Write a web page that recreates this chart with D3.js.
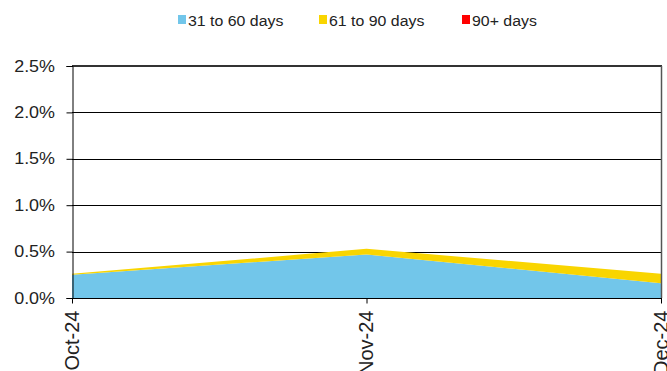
<!DOCTYPE html>
<html>
<head>
<meta charset="utf-8">
<script src="https://cdn.jsdelivr.net/npm/d3@7"></script>
<style>
  html, body { margin: 0; padding: 0; background: #fff; }
  svg { display: block; font-family: "Liberation Sans", Arial, sans-serif; }
</style>
</head>
<body>
<svg id="chart" width="667" height="371"></svg>
<script>
const categories = ["Oct-24", "Nov-24", "Dec-24"];
const seriesNames = ["31 to 60 days", "61 to 90 days", "90+ days"];
const seriesColors = ["#72C6EA", "#F9D500", "#FF0000"];
const s31to60 = [0.0025, 0.0047, 0.0016];
const s61to90 = [0.0001, 0.0006, 0.0010];
const s90plus = [0.0, 0.0, 0.0];
const yTicks = [0, 0.005, 0.010, 0.015, 0.020, 0.025];

(function () {
const svg = d3.select("#chart");
const pL = 72, pR = 661, pT = 66, pB = 298;

const x = d3.scalePoint().domain(categories).range([pL, pR]);
const y = d3.scaleLinear().domain([0, 0.025]).range([pB, pT]);

const rows = categories.map((c, i) => ({ cat: c, a: s31to60[i], b: s61to90[i], c: s90plus[i] }));
const stack = d3.stack().keys(["a", "b", "c"]);
const layers = stack(rows);

// gridlines
svg.append("g").selectAll("line").data(yTicks.slice(1)).join("line")
  .attr("x1", pL).attr("x2", pR)
  .attr("y1", d => Math.round(y(d)) + 0.5).attr("y2", d => Math.round(y(d)) + 0.5)
  .attr("stroke", "#000").attr("stroke-width", 1);

// areas
const area = d3.area()
  .x(d => x(d.data.cat))
  .y0(d => y(d[0]))
  .y1(d => y(d[1]));
svg.append("g").selectAll("path").data(layers).join("path")
  .attr("d", area)
  .attr("fill", (d, i) => seriesColors[i]);

// top & right border
svg.append("line").attr("x1", pL).attr("x2", pR + 1).attr("y1", pT).attr("y2", pT)
  .attr("stroke", "#333").attr("stroke-width", 2);
svg.append("line").attr("x1", pR + 0.5).attr("x2", pR + 0.5).attr("y1", pT).attr("y2", pB)
  .attr("stroke", "#555").attr("stroke-width", 1.5);

// y axis
const yAxis = d3.axisLeft(y).tickValues(yTicks).tickFormat(d3.format(".1%")).tickSize(6).tickPadding(0);
const gy = svg.append("g").attr("transform", `translate(${pL + 0.5},0)`).call(yAxis);
gy.select(".domain").attr("stroke", "#000");
gy.selectAll(".tick line").attr("stroke", "#000");
gy.selectAll(".tick text")
  .attr("font-size", 16).attr("fill", "#222")
  .attr("font-family", "Liberation Sans, Arial, sans-serif")
  .attr("x", 0).attr("text-anchor", "end")
  .attr("transform", "translate(-17.5,0) scale(1.12,1)");

// x axis
const xAxis = d3.axisBottom(x).tickSize(5).tickSizeOuter(0).tickFormat(d => d);
const gx = svg.append("g").attr("transform", `translate(0,${pB + 0.5})`).call(xAxis);
gx.select(".domain").attr("stroke", "#000").attr("d", `M${pL},0H${pR + 1}`);
gx.selectAll(".tick line").attr("stroke", "#000");
gx.selectAll(".tick text")
  .attr("font-size", 20).attr("fill", "#222")
  .attr("font-family", "Liberation Sans, Arial, sans-serif")
  .attr("text-anchor", "end")
  .attr("y", 0).attr("dy", "0.35em")
  .attr("transform", "translate(-1,12) rotate(-90)");

// legend
const legendX = [178, 319, 462];
const lg = svg.append("g").selectAll("g").data(seriesNames).join("g")
  .attr("transform", (d, i) => `translate(${legendX[i]},0)`);
lg.append("rect").attr("x", 0).attr("y", 15).attr("width", 8).attr("height", 9)
  .attr("fill", (d, i) => seriesColors[i]);
lg.append("text").text(d => d)
  .attr("x", 0).attr("y", 26)
  .attr("font-size", 15).attr("fill", "#222")
  .attr("transform", "translate(10,0) scale(1.06,1)");
})();
</script>
</body>
</html>
